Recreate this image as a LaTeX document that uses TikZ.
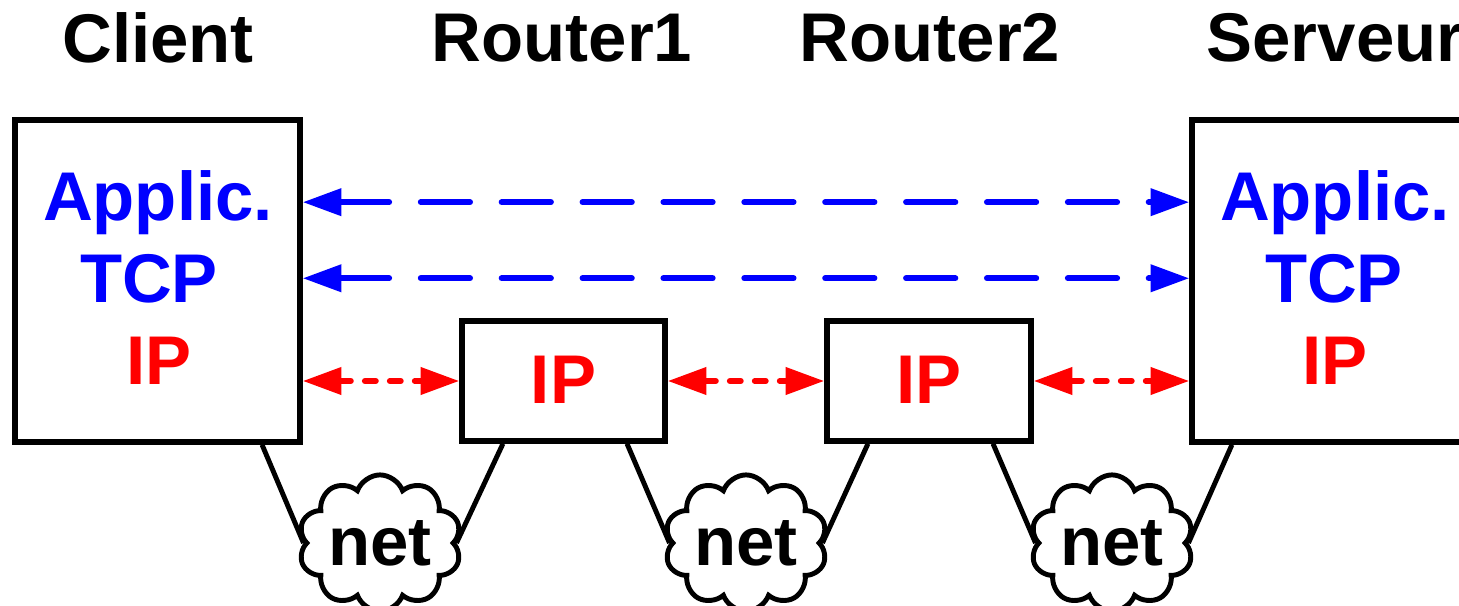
\documentclass[tikz,border=0pt]{standalone}
\usepackage{fontspec}
\setmainfont{Liberation Sans}
\usetikzlibrary{arrows.meta,shapes.symbols}
\begin{document}
\begin{tikzpicture}[x=0.01cm,y=-0.01cm,
  font=\fontsize{19.6}{23}\selectfont\bfseries,
  box/.style={draw, line width=1.5pt, inner sep=0pt},
  lbl/.style={anchor=base, inner sep=0pt},
  title/.style={inner sep=0pt},
  bluearr/.style={blue, line width=1.7pt, line cap=round, dash pattern=on 14pt off 9pt, {Triangle[length=11pt,width=7.5pt]}-{Triangle[length=11pt,width=7.5pt]}},
  redarr/.style={red, line width=1.7pt, line cap=round, dash pattern=on 3.1pt off 4pt, {Triangle[length=11pt,width=7.5pt]}-{Triangle[length=11pt,width=7.5pt]}},
  link/.style={line width=1.4pt},
  netcloud/.style={cloud, draw, line width=1.4pt, cloud puffs=10, cloud puff arc=140, aspect=1.33, minimum width=1.62cm, minimum height=1.24cm, inner sep=0pt}
]
\useasboundingbox (0,0) rectangle (1459,606);
\clip (0,0) rectangle (1459,606);

% titles
\node[title] (tclient) at (158,38) {Client};
\node[title] (tr1) at (562,38) {Router1};
\node[title] (tr2) at (930,38) {Router2};
\node[title] (tserv) at (1335,38) {Serveur};

% boxes
\node[box, minimum width=2.85cm, minimum height=3.22cm] (client) at (157.5,281) {};
\node[box, minimum width=2.85cm, minimum height=3.22cm] (server) at (1334.5,281) {};
\node[box, minimum width=2.03cm, minimum height=1.2cm] (r1) at (563.5,381) {};
\node[box, minimum width=2.04cm, minimum height=1.2cm] (r2) at (929,381) {};

% box texts
\node[lbl, text=blue] (capp) at (158,220) {Applic.};
\node[lbl, text=blue] (ctcp) at (149,302) {TCP};
\node[lbl, text=red] (cip) at (159,384) {IP};
\node[lbl, text=blue] (sapp) at (1335,220) {Applic.};
\node[lbl, text=blue] (stcp) at (1334,302) {TCP};
\node[lbl, text=red] (sip) at (1335,384) {IP};
\node[lbl, text=red] (r1ip) at (563.5,403) {IP};
\node[lbl, text=red] (r2ip) at (929,403) {IP};

% end-to-end arrows
\draw[bluearr] (client.east |- capp) -- (server.west |- capp);
\draw[bluearr] (client.east |- ctcp) -- (server.west |- ctcp);

% hop arrows
\draw[redarr] (client.east |- r1) -- (r1.west);
\draw[redarr] (r1.east) -- (r2.west);
\draw[redarr] (r2.east) -- (server.west |- r2);

% clouds
\node[netcloud] (net1) at (380,543) {net};
\node[netcloud] (net2) at (746,543) {net};
\node[netcloud] (net3) at (1112,543) {net};

\draw[link] ([xshift=1.045cm]client.south) -- (net1.west);
\draw[link] ([xshift=-0.605cm]r1.south) -- (net1.east);
\draw[link] ([xshift=0.635cm]r1.south) -- (net2.west);
\draw[link] ([xshift=-0.61cm]r2.south) -- (net2.east);
\draw[link] ([xshift=0.64cm]r2.south) -- (net3.west);
\draw[link] ([xshift=-1.025cm]server.south) -- (net3.east);
\end{tikzpicture}
\end{document}
